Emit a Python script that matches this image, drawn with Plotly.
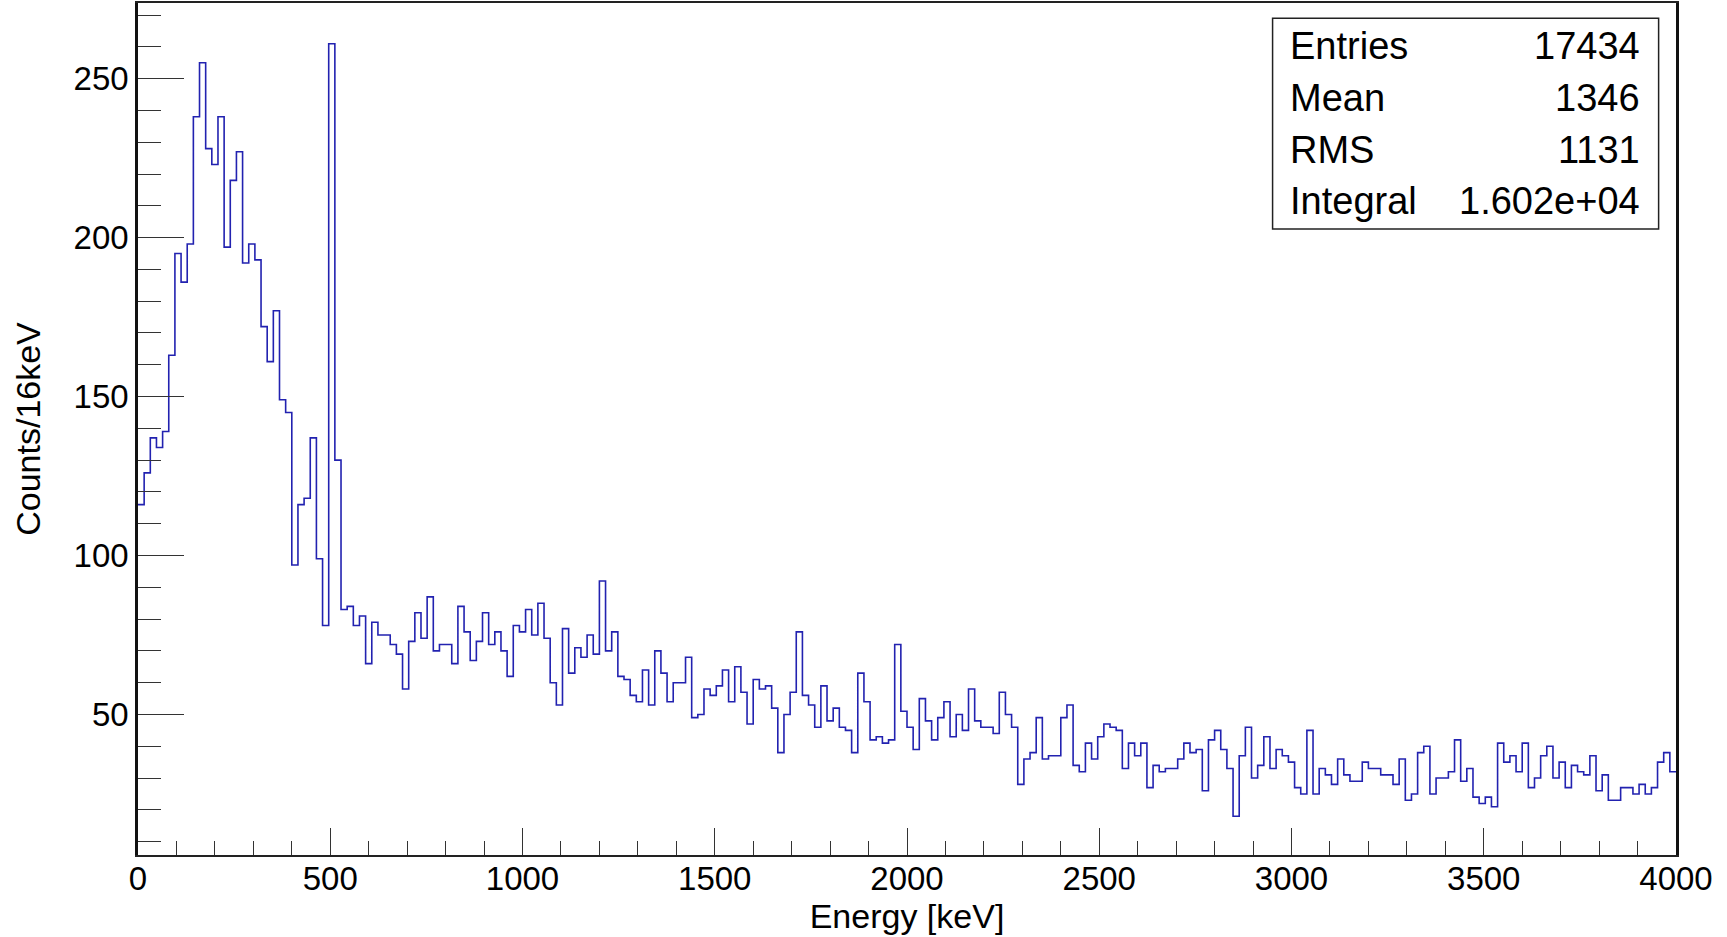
import numpy as np
import plotly.graph_objects as go

# ---- data (16 keV bins, 0-4000 keV) ----
bin_width_kev = 16
energy_min, energy_max = 0, 4000
counts = [
    116, 126, 137, 134, 139, 163, 195, 186, 198, 238, 255, 228, 223, 238, 197, 218, 227,
    192, 198, 193, 172, 161, 177, 149, 145, 97, 116, 118, 137, 99, 78, 261, 130, 83,
    84, 78, 81, 66, 79, 75, 75, 72, 69, 58, 73, 82, 74, 87, 70, 72, 72, 66, 84, 76, 67,
    73, 82, 72, 76, 70, 62, 78, 76, 83,
    75, 85, 74, 60, 53, 77, 63, 71, 68, 75, 69, 92, 70, 76, 62, 61, 56, 54, 64, 53, 70,
    63, 54, 60, 60, 68, 49, 50, 58, 56, 59, 64,
    54, 65, 57, 47, 61, 58, 59, 52, 38, 50, 57, 76, 56, 53, 46, 59, 48, 52, 46, 45, 38,
    63, 54, 42, 43, 41, 42, 72, 51, 46, 39,
    55, 48, 42, 49, 54, 43, 50, 45, 58, 48, 46, 46, 44, 57, 50, 46, 28, 36, 38, 49, 36,
    37, 37, 49, 53, 34, 32, 41, 36, 43, 47,
    46, 45, 33, 41, 37, 41, 27, 34, 32, 33, 33, 36, 41, 38, 39, 26, 42, 45, 39, 33, 18,
    37, 46, 30, 34, 43, 33, 39, 37, 35, 27,
    25, 45, 25, 33, 31, 28, 36, 31, 29, 29, 35, 33, 33, 31, 31, 28, 36, 23, 25, 38, 40,
    25, 30, 30, 32, 42, 29, 33, 24, 22, 24,
    21, 41, 35, 37, 32, 41, 27, 30, 37, 40, 30, 35, 27, 34, 32, 31, 37, 26, 31, 23, 23,
    27, 27, 25, 28, 25, 27, 35, 38, 32,
]
x_tick_vals = [0, 500, 1000, 1500, 2000, 2500, 3000, 3500, 4000]
y_tick_vals = [50, 100, 150, 200, 250]
stats_labels = ["Entries", "Mean", "RMS", "Integral"]
stats_values = ["17434", "1346", "1131", "1.602e+04"]

x_title = "Energy [keV]"
y_title = "Counts/16keV"

# ---- build step outline ----
edges = np.arange(energy_min, energy_max + bin_width_kev, bin_width_kev)
xs = list(edges)
ys = list(counts) + [counts[-1]]

FONT = "Liberation Sans, Arial, Helvetica, sans-serif"
TICK_SIZE = 33
TITLE_SIZE = 34
STATS_SIZE = 38

fig = go.Figure()
fig.add_trace(go.Scatter(
    x=xs, y=ys, mode="lines", line=dict(shape="hv", color="#2222b0", width=1.6),
    hoverinfo="x+y", showlegend=False,
))

fig.update_layout(
    width=1727, height=937,
    margin=dict(l=138, r=51, t=3, b=82),
    paper_bgcolor="white", plot_bgcolor="white",
    font=dict(family=FONT, size=TICK_SIZE, color="black"),
)

fig.update_xaxes(
    range=[energy_min, energy_max], tickvals=x_tick_vals,
    ticks="inside", ticklen=27, tickwidth=1.2, tickcolor="#333",
    minor=dict(dtick=100, tick0=0, ticks="inside", ticklen=14, tickwidth=1.2, tickcolor="#333"),
    showline=True, linecolor="#222", linewidth=1.5, mirror=True,
    showgrid=False, zeroline=False,
    tickfont=dict(family=FONT, size=TICK_SIZE, color="black"),
    ticklabelstandoff=-6,
    title=dict(text=x_title, font=dict(family=FONT, size=TITLE_SIZE, color="black"), standoff=0),
    automargin=False,
)
fig.update_yaxes(
    range=[5.8, 273.8], tickvals=y_tick_vals,
    ticks="inside", ticklen=46, tickwidth=1.2, tickcolor="#333",
    minor=dict(dtick=10, tick0=0, ticks="inside", ticklen=23, tickwidth=1.2, tickcolor="#333"),
    showline=True, linecolor="#111", linewidth=2.5, mirror=True,
    showgrid=False, zeroline=False,
    tickfont=dict(family=FONT, size=TICK_SIZE, color="black"),
    title=dict(text=y_title, font=dict(family=FONT, size=TITLE_SIZE, color="black"), standoff=23),
    automargin=False,
)

# ---- stats box ----
fig.add_shape(type="rect", xref="paper", yref="paper",
              x0=0.7377, x1=0.9887, y0=0.7347, y1=0.9820,
              line=dict(color="#222", width=1.5), fillcolor="white")
row_y = [0.9492, 0.8885, 0.8278, 0.7673]
for lab, val, yy in zip(stats_labels, stats_values, row_y):
    fig.add_annotation(xref="paper", yref="paper", x=0.7480, y=yy, text=lab,
                       showarrow=False, xanchor="left", yanchor="middle",
                       font=dict(family=FONT, size=STATS_SIZE, color="black"))
    fig.add_annotation(xref="paper", yref="paper", x=0.9776, y=yy, text=val,
                       showarrow=False, xanchor="right", yanchor="middle",
                       font=dict(family=FONT, size=STATS_SIZE, color="black"))

fig.write_html("out.html")
